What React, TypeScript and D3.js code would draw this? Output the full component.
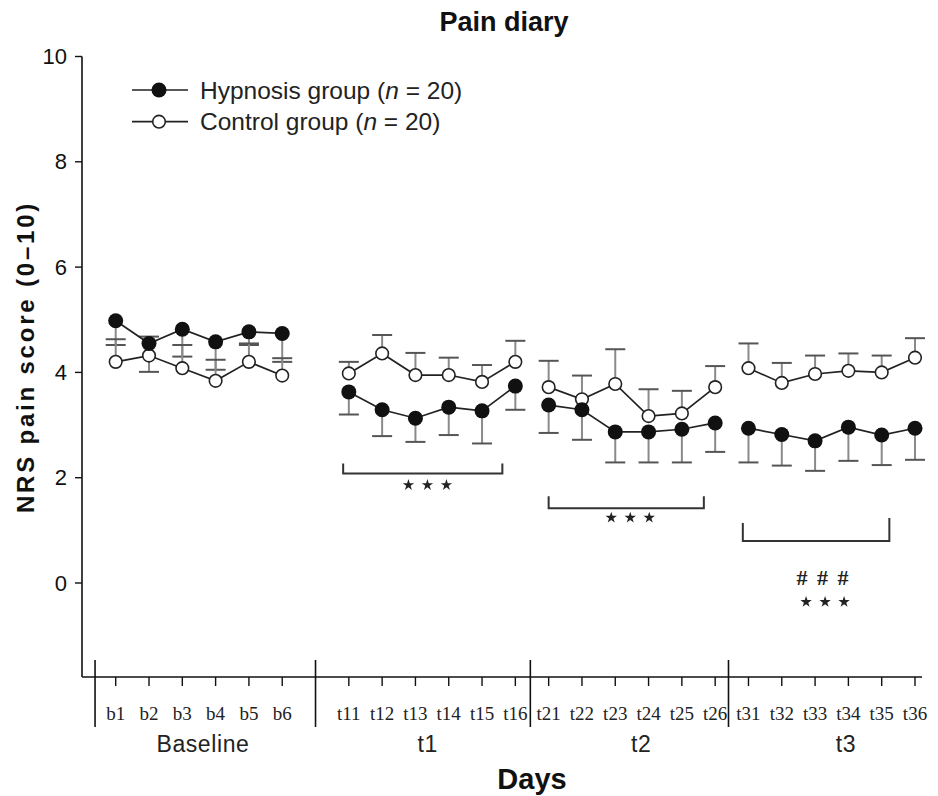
import React from "react";
import * as d3 from "d3";

const groupNames = ["Baseline", "t1", "t2", "t3"];
const dayLabels = [
  "b1", "b2", "b3", "b4", "b5", "b6",
  "t11", "t12", "t13", "t14", "t15", "t16",
  "t21", "t22", "t23", "t24", "t25", "t26",
  "t31", "t32", "t33", "t34", "t35", "t36",
];
const dayGroup = [0,0,0,0,0,0, 1,1,1,1,1,1, 2,2,2,2,2,2, 3,3,3,3,3,3];

const hypnosisMean = [4.98, 4.55, 4.82, 4.58, 4.77, 4.74, 3.63, 3.29, 3.13, 3.34, 3.27, 3.74, 3.38, 3.29, 2.87, 2.87, 2.92, 3.04, 2.94, 2.82, 2.70, 2.96, 2.81, 2.94];
const hypnosisErr = [0.46, 0.54, 0.52, 0.53, 0.25, 0.54, 0.43, 0.50, 0.45, 0.53, 0.62, 0.45, 0.53, 0.57, 0.58, 0.58, 0.63, 0.55, 0.65, 0.59, 0.57, 0.64, 0.57, 0.60];
const controlMean = [4.20, 4.32, 4.08, 3.84, 4.20, 3.94, 3.98, 4.36, 3.95, 3.95, 3.82, 4.20, 3.72, 3.49, 3.78, 3.17, 3.22, 3.72, 4.08, 3.80, 3.97, 4.03, 4.00, 4.28];
const controlErr = [0.43, 0.36, 0.44, 0.40, 0.35, 0.33, 0.22, 0.35, 0.42, 0.33, 0.32, 0.40, 0.50, 0.45, 0.66, 0.51, 0.43, 0.40, 0.47, 0.38, 0.35, 0.33, 0.32, 0.37];

const yTicks = [0, 2, 4, 6, 8, 10];

// significance brackets (position in day units, level in score units)
const bracketFrom = [6.83, 13.0, 18.83];
const bracketTo = [11.61, 17.66, 23.23];
const bracketLevel = [2.08, 1.42, 0.80];
const bracketLeftH = [10, 12, 18];
const bracketRightH = [10, 12, 23];

const starRowX = [9.36, 15.45, 21.3];
const starRowY = [1.86, 1.24, -0.36];
const hashRowX = [21.22];
const hashRowY = [0.12];

const groupLabelPos = [2.62, 9.37, 15.78, 21.93];
const separatorPos = [-0.62, 6.0, 12.45, 18.4];

const SANS = "'Liberation Sans', Arial, Helvetica, sans-serif";
const SERIF = "'Liberation Serif', 'Times New Roman', serif";

export default function App() {
  const W = 938, H = 796;
  const pos = dayLabels.map((_, i) => i + (i >= 6 ? 1 : 0));
  const x = d3.scaleLinear().domain([0, 24]).range([115.7, 915]);
  const y = d3.scaleLinear().domain([0, 10]).range([583, 56.5]);
  const axisY = 677;
  const axisX = 82;

  const mkLine = (vals: number[], g: number) => {
    const idx = dayGroup.map((gg, i) => (gg === g ? i : -1)).filter((i) => i >= 0);
    return d3.line<number>().x((i) => x(pos[i])).y((i) => y(vals[i]))(idx) || "";
  };

  const star = d3.symbol().type(d3.symbolStar).size(40)() || "";

  return (
    <svg width={W} height={H} style={{ position: "absolute", left: 0, top: 0, background: "#fff" }}>
      {/* title */}
      <text x={504} y={31} textAnchor="middle" fontFamily={SANS} fontWeight="bold" fontSize={27} fill="#111">Pain diary</text>

      {/* y axis */}
      <line x1={axisX} x2={axisX} y1={y(10)} y2={axisY} stroke="#111" strokeWidth={1.6} />
      {yTicks.map((t) => (
        <g key={t}>
          <line x1={axisX - 7} x2={axisX} y1={y(t)} y2={y(t)} stroke="#111" strokeWidth={1.4} />
          <text x={67} y={y(t) + 7.5} textAnchor="end" fontFamily={SANS} fontSize={22} fill="#111">{t}</text>
        </g>
      ))}
      <text transform={`translate(34,357) rotate(-90)`} textAnchor="middle" fontFamily={SANS} fontWeight="bold" fontSize={24} letterSpacing={2.8} fill="#111">NRS pain score (0–10)</text>

      {/* x axis */}
      <line x1={axisX} x2={922} y1={axisY} y2={axisY} stroke="#111" strokeWidth={1.6} />
      {dayLabels.map((d, i) => (
        <g key={d}>
          <line x1={x(pos[i])} x2={x(pos[i])} y1={axisY} y2={axisY + 9} stroke="#111" strokeWidth={1.4} />
          <text x={x(pos[i])} y={720} textAnchor="middle" fontFamily={SERIF} fontSize={19} fill="#222">{d}</text>
        </g>
      ))}
      {separatorPos.map((p, i) => (
        <line key={i} x1={x(p)} x2={x(p)} y1={660} y2={727} stroke="#111" strokeWidth={1.6} />
      ))}
      {groupNames.map((g, i) => (
        <text key={g} x={x(groupLabelPos[i])} y={752} textAnchor="middle" fontFamily={SANS} fontSize={23} letterSpacing={0.6} fill="#222">{g}</text>
      ))}
      <text x={532} y={789} textAnchor="middle" fontFamily={SANS} fontWeight="bold" fontSize={29} fill="#111">Days</text>

      {/* error bars */}
      {dayLabels.map((d, i) => {
        const cx = x(pos[i]);
        const hy = y(hypnosisMean[i]), hl = y(hypnosisMean[i] - hypnosisErr[i]);
        const cy = y(controlMean[i]), cu = y(controlMean[i] + controlErr[i]);
        return (
          <g key={"e" + d}>
            <line x1={cx} x2={cx} y1={hy} y2={hl} stroke="#8a8a8a" strokeWidth={2} />
            <line x1={cx - 10} x2={cx + 10} y1={hl} y2={hl} stroke="#555" strokeWidth={2} />
            <line x1={cx} x2={cx} y1={cy} y2={cu} stroke="#8a8a8a" strokeWidth={2} />
            <line x1={cx - 10} x2={cx + 10} y1={cu} y2={cu} stroke="#555" strokeWidth={2} />
          </g>
        );
      })}

      {/* lines */}
      {groupNames.map((g, gi) => (
        <g key={"l" + g}>
          <path d={mkLine(controlMean, gi)} fill="none" stroke="#222" strokeWidth={1.7} />
          <path d={mkLine(hypnosisMean, gi)} fill="none" stroke="#222" strokeWidth={1.7} />
        </g>
      ))}

      {/* markers */}
      {dayLabels.map((d, i) => (
        <g key={"m" + d}>
          <circle cx={x(pos[i])} cy={y(controlMean[i])} r={6.3} fill="#fff" stroke="#222" strokeWidth={1.6} />
          <circle cx={x(pos[i])} cy={y(hypnosisMean[i])} r={7.5} fill="#111" />
        </g>
      ))}

      {/* brackets */}
      {bracketFrom.map((b, i) => {
        const x1 = x(b), x2 = x(bracketTo[i]), yy = y(bracketLevel[i]);
        return (
          <path key={"b" + i} d={`M${x1},${yy - bracketLeftH[i]}V${yy}H${x2}V${yy - bracketRightH[i]}`} fill="none" stroke="#333" strokeWidth={2} />
        );
      })}
      {starRowX.map((sx, i) => (
        <g key={"s" + i}>
          {[-1, 0, 1].map((k) => (
            <path key={k} d={star} transform={`translate(${x(sx) + k * 19},${y(starRowY[i])})`} fill="#222" />
          ))}
        </g>
      ))}
      {hashRowX.map((hx, i) => (
        <g key={"h" + i}>
          {[-1, 0, 1].map((k) => (
            <text key={k} x={x(hx) + k * 20.5} y={y(hashRowY[i]) + 8} textAnchor="middle" fontFamily={SERIF} fontWeight="bold" fontSize={22} fill="#222">#</text>
          ))}
        </g>
      ))}

      {/* legend */}
      {[0, 1].map((k) => {
        const ly = k === 0 ? 90 : 121.7;
        return (
          <g key={"lg" + k}>
            <line x1={132} x2={188} y1={ly} y2={ly} stroke="#222" strokeWidth={1.7} />
            {k === 0 ? (
              <circle cx={159} cy={ly} r={7.5} fill="#111" />
            ) : (
              <circle cx={159} cy={ly} r={6.3} fill="#fff" stroke="#222" strokeWidth={1.6} />
            )}
            <text x={200} y={ly + 8.5} fontFamily={SANS} fontSize={24.5} fill="#222">
              {k === 0 ? "Hypnosis group (" : "Control group ("}
              <tspan fontStyle="italic">n</tspan>
              {" = 20)"}
            </text>
          </g>
        );
      })}
    </svg>
  );
}
